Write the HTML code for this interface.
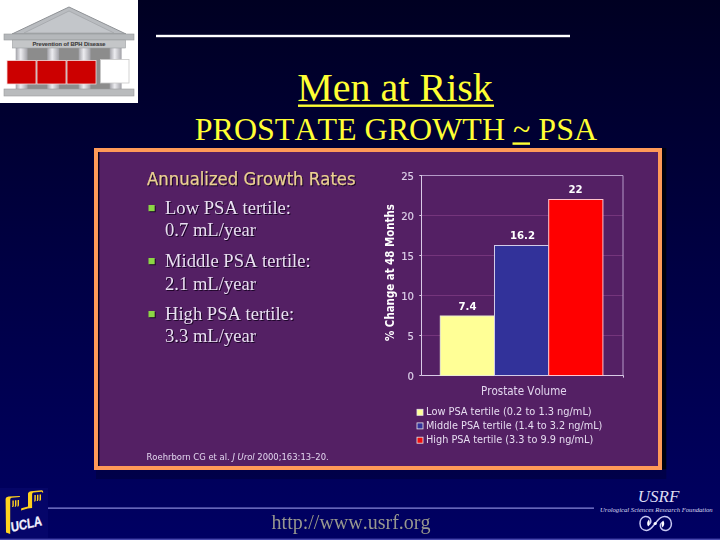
<!DOCTYPE html>
<html><head><meta charset="utf-8"><title>Men at Risk</title>
<style>
html,body{margin:0;padding:0;}
body{width:720px;height:540px;overflow:hidden;background:#000040;}
svg{display:block;}
text{font-kerning:none;}
.ser{font-family:"Liberation Serif",serif;}
.san{font-family:"DejaVu Sans Condensed","DejaVu Sans","Liberation Sans",sans-serif;}
.ari{font-family:"Liberation Sans",sans-serif;}
.sh{filter:drop-shadow(1px 1px 0.4px rgba(20,5,30,0.85));}
</style></head><body>
<svg width="720" height="540" viewBox="0 0 720 540">
<defs>
<linearGradient id="bg" x1="0" y1="0" x2="0" y2="1">
<stop offset="0" stop-color="#000022"/><stop offset="0.5" stop-color="#000044"/><stop offset="1" stop-color="#000063"/>
</linearGradient>
<linearGradient id="col" x1="0" y1="0" x2="1" y2="0">
<stop offset="0" stop-color="#a2a2a8"/><stop offset="0.42" stop-color="#ececf0"/><stop offset="1" stop-color="#a0a0a6"/>
</linearGradient>
<filter id="soft" x="-2%" y="-2%" width="104%" height="104%"><feGaussianBlur stdDeviation="0.55"/></filter>
</defs>
<rect width="720" height="540" fill="url(#bg)"/>

<!-- temple logo -->
<g id="temple">
<rect x="0" y="0" width="138" height="103" fill="#ffffff"/>
<rect x="27" y="48" width="83" height="41" fill="#8c8c8c"/>
<rect x="15.7" y="48" width="11.9" height="41" fill="url(#col)"/>
<rect x="47.2" y="48" width="11.9" height="41" fill="url(#col)"/>
<rect x="78.7" y="48" width="11.9" height="41" fill="url(#col)"/>
<rect x="109.7" y="48" width="11.9" height="41" fill="url(#col)"/>
<polygon points="69,7 12,34 126,34" fill="#b9bcc0" stroke="#8f9296" stroke-width="1"/>
<polygon points="69,11 24,33 114,33" fill="#c3c6ca" stroke="#a3a6aa" stroke-width="0.8"/>
<rect x="4" y="34" width="130" height="6" fill="#b5b8bb" stroke="#94979a" stroke-width="0.6"/>
<rect x="12.5" y="40" width="113" height="8" fill="#c4c6c8" stroke="#9c9ea0" stroke-width="0.6"/>
<text x="69" y="46.1" text-anchor="middle" class="ari" font-weight="bold" font-size="5.7" fill="#3c3c3c" stroke="#3c3c3c" stroke-width="0.12">Prevention of BPH Disease</text>
<rect x="4" y="89" width="130" height="7" fill="#b9bbbd" stroke="#999b9d" stroke-width="0.6"/>
<rect x="7" y="60.5" width="29" height="23.5" fill="#cc0000" stroke="#f4dada" stroke-width="0.8"/>
<rect x="37" y="60.5" width="29" height="23.5" fill="#cc0000" stroke="#f4dada" stroke-width="0.8"/>
<rect x="67" y="60.5" width="29" height="23.5" fill="#cc0000" stroke="#f4dada" stroke-width="0.8"/>
<rect x="100.5" y="59.5" width="28.5" height="23.5" fill="#ffffff" stroke="#c8c8c8" stroke-width="0.8"/>
</g>

<!-- top line -->
<rect x="156" y="34.8" width="414" height="2.4" fill="#ffffff"/>

<!-- titles -->
<text id="t1" class="ser" x="297.3" y="100.8" font-size="40" fill="#ffff33">Men at Risk</text>
<rect x="298" y="104.5" width="196" height="2.4" fill="#ffff33"/>
<text id="t2" class="ser" x="194.8" y="139.8" font-size="32" fill="#ffff33">PROSTATE GROWTH ~ PSA</text>
<rect x="512.5" y="142.4" width="17.5" height="2.4" fill="#ffff33"/>

<!-- chart frame -->
<g id="chart">
<rect x="662" y="148" width="4.3" height="321.5" fill="#00000e"/>
<rect x="96" y="470" width="570.3" height="9" fill="#000000" opacity="0.2"/>
<rect x="94" y="148" width="568" height="322" fill="#ff9a58"/>
<rect x="98" y="152" width="560" height="314" fill="#542064"/>
<rect x="98" y="152" width="1.4" height="314" fill="#0a0420"/>
<g filter="url(#soft)">
<!-- left text -->
<g class="sh">
<text class="san" x="147" y="184.5" font-size="18.35" fill="#ecd092" stroke="#ecd092" stroke-width="0.25">Annualized Growth Rates</text>
<g class="ser" font-size="18.6" fill="#eadff2">
<text x="165" y="213.8">Low PSA tertile:</text>
<text x="165" y="236.2">0.7 mL/year</text>
<text x="165" y="266.8">Middle PSA tertile:</text>
<text x="165" y="290">2.1 mL/year</text>
<text x="165" y="320">High PSA tertile:</text>
<text x="165" y="342">3.3 mL/year</text>
</g>
<g fill="#8cd644">
<rect x="148.5" y="205" width="6.2" height="6.2"/>
<rect x="148.5" y="258" width="6.2" height="6.2"/>
<rect x="148.5" y="311" width="6.2" height="6.2"/>
</g>
</g>
<!-- plot -->
<g stroke="#74357c" stroke-width="1">
<line x1="421" y1="215.5" x2="623" y2="215.5"/>
<line x1="421" y1="255.5" x2="623" y2="255.5"/>
<line x1="421" y1="295.5" x2="623" y2="295.5"/>
<line x1="421" y1="335.5" x2="623" y2="335.5"/>
</g>
<polyline points="421.5,175.5 623,175.5 623,375.5" fill="none" stroke="#b59ac8" stroke-width="1"/>
<g stroke="#d9cbe6" stroke-width="1">
<polyline points="421.5,175 421.5,375.5 623.5,375.5" fill="none"/>
<line x1="419.3" y1="175.5" x2="421.5" y2="175.5"/>
<line x1="419.3" y1="215.5" x2="421.5" y2="215.5"/>
<line x1="419.3" y1="255.5" x2="421.5" y2="255.5"/>
<line x1="419.3" y1="295.5" x2="421.5" y2="295.5"/>
<line x1="419.3" y1="335.5" x2="421.5" y2="335.5"/>
<line x1="419.3" y1="375.5" x2="421.5" y2="375.5"/>
<line x1="623.5" y1="375.5" x2="623.5" y2="377.6"/>
</g>
<rect x="440.3" y="316" width="54.2" height="59.5" fill="#ffff96" stroke="#ecECd0" stroke-width="1"/>
<rect x="494.5" y="245.5" width="54.2" height="130" fill="#32329a" stroke="#d2cce8" stroke-width="1"/>
<rect x="548.7" y="199.5" width="54.2" height="176" fill="#ff0000" stroke="#ffc4cc" stroke-width="1"/>
<g class="san" font-size="11.2" fill="#dccfe8" stroke="#dccfe8" stroke-width="0.2" text-anchor="end">
<text x="414" y="179.6">25</text>
<text x="414" y="219.6">20</text>
<text x="414" y="259.6">15</text>
<text x="414" y="299.6">10</text>
<text x="414" y="339.6">5</text>
<text x="414" y="379.6">0</text>
</g>
<g class="san" font-size="11.3" font-weight="bold" fill="#ffffff" text-anchor="middle">
<text x="467.5" y="310">7.4</text>
<text x="522.5" y="238.8">16.2</text>
<text x="575.5" y="192.5">22</text>
</g>
<text class="san" font-size="11.4" font-weight="bold" fill="#ffffff" text-anchor="middle" transform="translate(393.8,272.6) rotate(-90)">% Change at 48 Months</text>
<text class="san" font-size="11.5" fill="#e2d6ee" x="481" y="395">Prostate Volume</text>
<!-- legend -->
<rect x="417" y="409.3" width="6" height="6" fill="#ffff96" stroke="#e8e8e8" stroke-width="0.8"/>
<rect x="417" y="422.9" width="6" height="6" fill="#32329a" stroke="#e8e8e8" stroke-width="0.8"/>
<rect x="417" y="437.2" width="6" height="6" fill="#ee1010" stroke="#e8e8e8" stroke-width="0.8"/>
<g class="san" font-size="10.9" fill="#e6dcf0">
<text x="426" y="415.3" textLength="165.7" lengthAdjust="spacingAndGlyphs">Low PSA tertile (0.2 to 1.3 ng/mL)</text>
<text x="426" y="429.2" textLength="176.3" lengthAdjust="spacingAndGlyphs">Middle PSA tertile (1.4 to 3.2 ng/mL)</text>
<text x="426" y="443.4" textLength="167.3" lengthAdjust="spacingAndGlyphs">High PSA tertile (3.3 to 9.9 ng/mL)</text>
</g>
<text class="san" font-size="9.35" fill="#e2d6ee" x="146.5" y="460.3">Roehrborn CG et al. <tspan font-style="italic">J Urol</tspan> 2000;163:13–20.</text>
</g>
</g>

<!-- footer -->
<rect x="0" y="538.6" width="720" height="1.4" fill="#4848ae"/>
<rect x="48" y="507.4" width="546" height="1.5" fill="#7070c4"/>
<text id="url" class="ser" x="271.6" y="528.8" font-size="20" fill="#969698" style="filter:drop-shadow(0.8px 0.8px 0.3px rgba(0,0,20,0.8))">http://www.usrf.org</text>

<!-- UCLA logo -->
<g id="ucla">
<rect x="0" y="488" width="48" height="50" fill="#0a0a72" opacity="0.5"/>
<g fill="#ffd21e">
<path d="M5.6,498.8 Q5.8,496.6 8.6,496.4 L19.9,495.9 L19.9,497.1 L11.6,497.8 Q10.3,498 10.2,499.6 L10.2,533.9 L6,532.4 Z"/>
<path d="M28,493.6 Q28.3,491.5 30.8,491.2 L41.6,490.2 Q43.2,490.2 43.3,492.6 L42.4,492.7 Q42.3,491.6 41.4,491.7 L33.4,492.6 Q32.2,492.9 32.1,494.4 L32.1,507.9 L27.6,508.6 L21,510.6 L21.3,508.2 L28,506.4 Z"/>
<path d="M12.4,500.6h1.4v5.2l-0.6,1.2h-1.2l0.4,-1.2z M15,500.3h1.4v5.2l-0.6,1.2h-1.2l0.4,-1.2z M17.6,500h1.4v5.2l-0.6,1.2h-1.2l0.4,-1.2z"/>
<path d="M34.4,495h1.4v5.2l-0.6,1.2h-1.2l0.4,-1.2z M37,494.7h1.4v5.2l-0.6,1.2h-1.2l0.4,-1.2z M39.6,494.4h1.4v5.2l-0.6,1.2h-1.2l0.4,-1.2z"/>
</g>
<text class="ari" font-weight="bold" font-size="13.6" fill="#f2f2ff" stroke="#f2f2ff" stroke-width="0.25" transform="translate(11.4,532) rotate(-12.5) skewX(-6)" textLength="31.8" lengthAdjust="spacingAndGlyphs">UCLA</text>
</g>

<!-- USRF logo -->
<g id="usrf" fill="#dcdcf2">
<text class="ser" font-style="italic" font-size="17" x="637.8" y="501.5">USRF</text>
<text class="ser" font-style="italic" font-size="6.7" x="600" y="511.6" textLength="112.7" lengthAdjust="spacingAndGlyphs">Urological Sciences Research Foundation</text>
<g fill="none" stroke="#c8c8f2" stroke-width="1.5" stroke-linecap="round">
<path d="M648.6,525 C650.5,523.5 651.3,521 650.3,519 C649.2,517 647,516.3 645,516.5 C641.5,517 639.9,520.5 640,523.5 C640.1,527.5 642.6,530.5 646.6,530.4 C651,530.2 653,526 655.2,523.5 C657.5,520.8 659.6,516.7 664.6,516.6 C668.6,516.5 671.3,519.5 671.4,523.5 C671.5,526.5 669.8,530 666.3,530.4 C664.3,530.6 662,529.8 660.9,527.8 C659.9,525.8 660.7,523.3 662.6,522"/>
</g>
<path d="M648.9,519.6 C650.2,521.5 650,524.5 648.2,526.6 C646.6,524.5 646.8,521.8 648.9,519.6 Z" fill="#ffffff"/>
<path d="M662.5,527.4 C661.2,525.5 661.4,522.5 663.2,520.4 C664.8,522.5 664.6,525.2 662.5,527.4 Z" fill="#ffffff"/>
<circle cx="655.2" cy="523.5" r="1.6" fill="#ffffff"/>
</g>
</g>
</svg>
</body></html>
